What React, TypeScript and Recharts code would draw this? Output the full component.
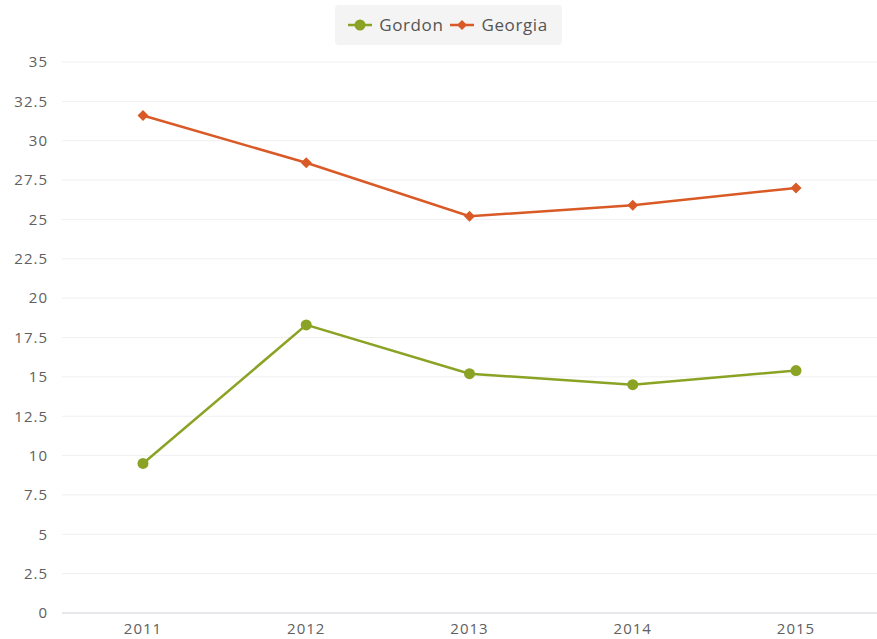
import { CartesianGrid, Legend, Line, LineChart, XAxis, YAxis } from "recharts";

const years = ["2011", "2012", "2013", "2014", "2015"];
const gordon = [9.5, 18.3, 15.2, 14.5, 15.4];
const georgia = [31.6, 28.6, 25.2, 25.9, 27.0];
const yTicks = [0, 2.5, 5, 7.5, 10, 12.5, 15, 17.5, 20, 22.5, 25, 27.5, 30, 32.5, 35];

const GREEN = "#8ba324";
const ORANGE = "#d95a26";
const FONT = "'Open Sans', sans-serif";

const data = years.map((year, i) => ({ year, Gordon: gordon[i], Georgia: georgia[i] }));

function Diamond({ cx, cy, fill }: { cx?: number; cy?: number; fill: string }) {
  if (cx == null || cy == null) return null;
  const r = 5.5;
  return <path d={`M${cx},${cy - r}L${cx + r},${cy}L${cx},${cy + r}L${cx - r},${cy}Z`} fill={fill} />;
}

function LegendBox() {
  const item = (label: string, color: string, diamond: boolean) => (
    <span style={{ display: "inline-flex", alignItems: "center", marginRight: 6 }}>
      <svg width={26} height={12} style={{ marginRight: 6 }}>
        <line x1={1} y1={6} x2={25} y2={6} stroke={color} strokeWidth={2.5} />
        {diamond ? <path d="M13,1L18,6L13,11L8,6Z" fill={color} /> : <circle cx={13} cy={6} r={5.5} fill={color} />}
      </svg>
      <span>{label}</span>
    </span>
  );
  return (
    <div style={{ display: "flex", justifyContent: "center" }}>
      <div
        style={{
          background: "#f4f4f4",
          borderRadius: 4,
          padding: "10px 8px 10px 12px",
          fontFamily: FONT,
          fontSize: 17,
          letterSpacing: 0.6,
          color: "#555",
          display: "flex",
          lineHeight: "20px",
        }}
      >
        {item("Gordon", GREEN, false)}
        {item("Georgia", ORANGE, true)}
      </div>
    </div>
  );
}

export default function App() {
  return (
    <div style={{ background: "#fff", width: 877, height: 639 }}>
      <style>{"body{margin:0;overflow:hidden}"}</style>
      <LineChart width={877} height={639} data={data} margin={{ top: 22, right: 0, bottom: 0, left: 0 }}>
        <Legend verticalAlign="top" content={<LegendBox />} wrapperStyle={{ top: 5, left: 20, width: 857, height: 40 }} />
        <CartesianGrid stroke="#f0f0f0" vertical={false} />
        <XAxis
          dataKey="year"
          height={26}
          padding={{ left: 81, right: 81 }}
          axisLine={{ stroke: "#d8d8e0" }}
          tickLine={false}
          tick={{ fontSize: 15, fill: "#606060", fontFamily: FONT, letterSpacing: 1 }}
          tickMargin={4}
        />
        <YAxis
          width={62}
          domain={[0, 35]}
          ticks={yTicks}
          interval={0}
          axisLine={false}
          tickLine={false}
          tick={{ fontSize: 15, fill: "#606060", fontFamily: FONT, letterSpacing: 1 }}
          tickMargin={8}
        />
        <Line
          dataKey="Gordon"
          stroke={GREEN}
          strokeWidth={2.5}
          dot={{ r: 5.5, fill: GREEN, stroke: GREEN, strokeWidth: 0 }}
          activeDot={false}
          isAnimationActive={false}
        />
        <Line
          dataKey="Georgia"
          stroke={ORANGE}
          strokeWidth={2.5}
          dot={(p: any) => <Diamond key={p.index} cx={p.cx} cy={p.cy} fill={ORANGE} />}
          activeDot={false}
          isAnimationActive={false}
        />
      </LineChart>
    </div>
  );
}
